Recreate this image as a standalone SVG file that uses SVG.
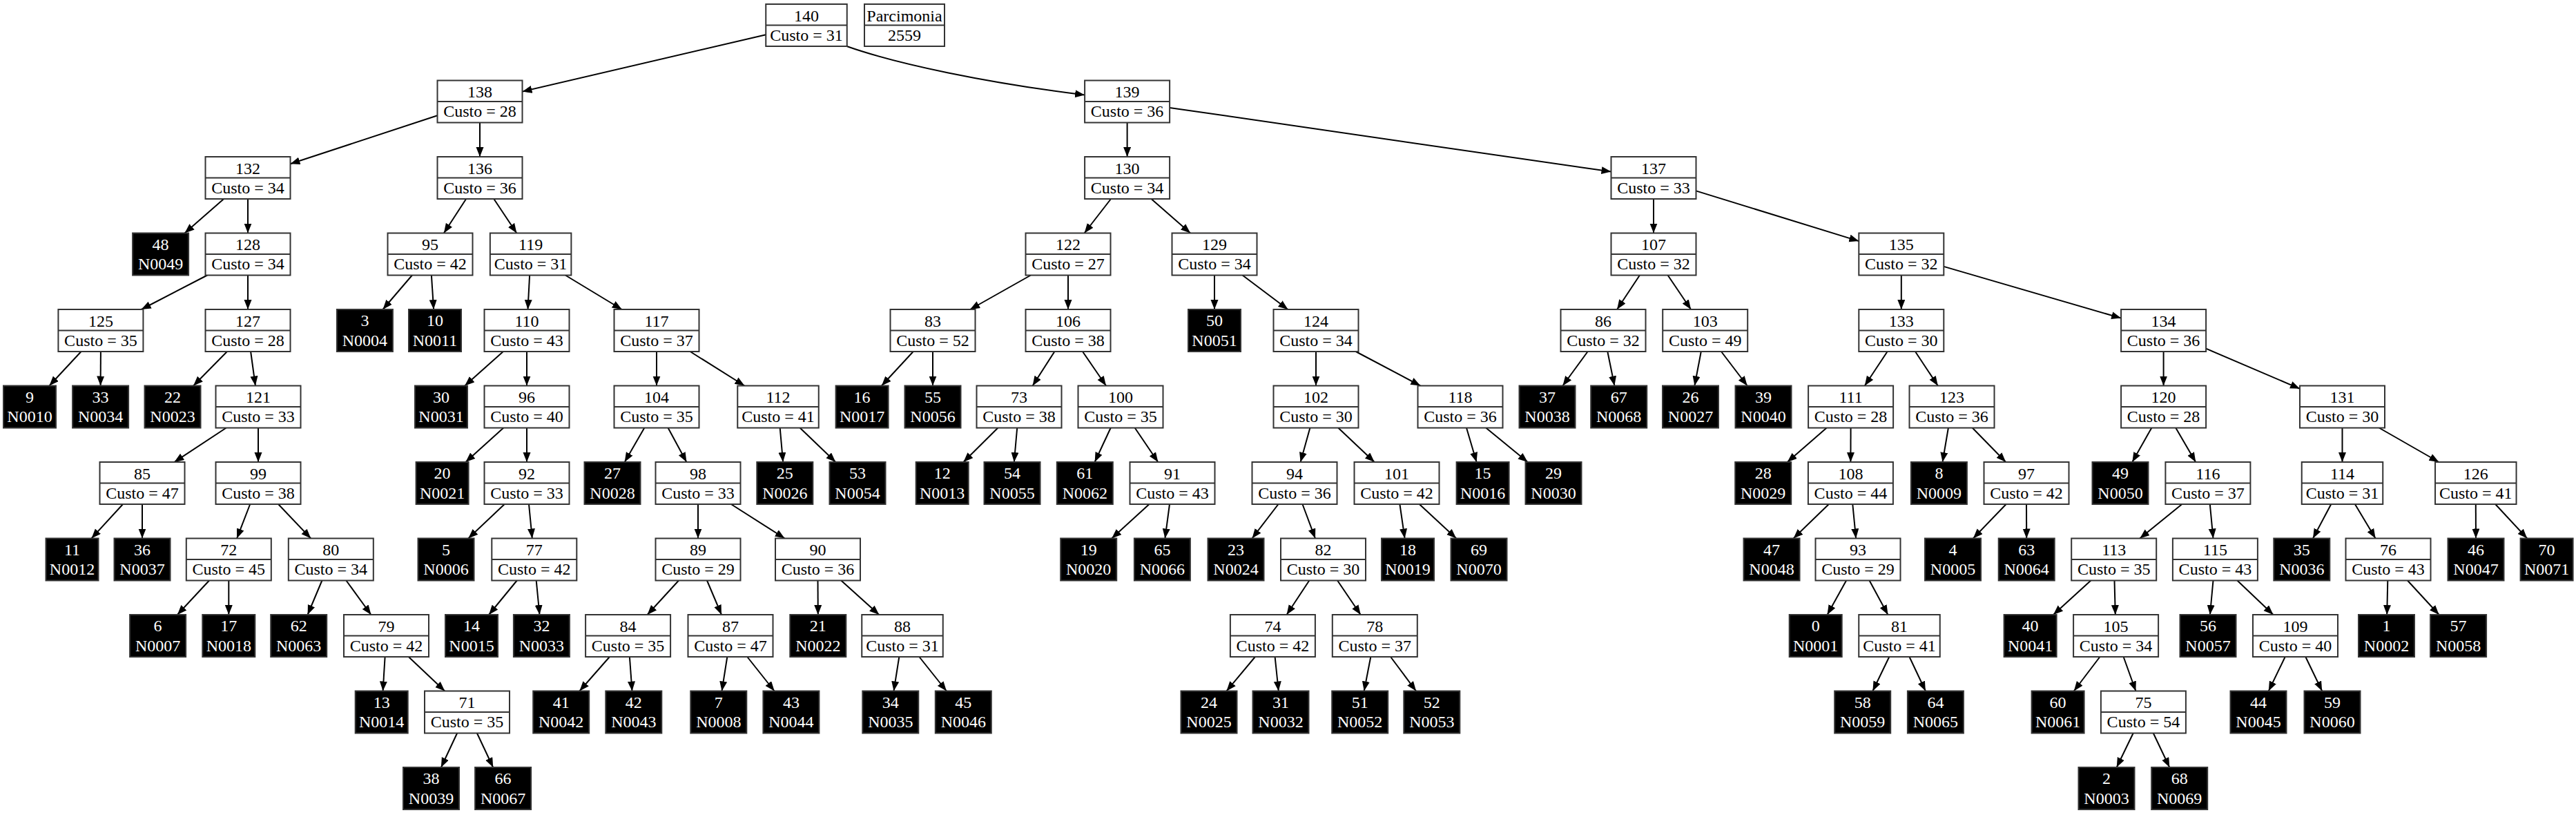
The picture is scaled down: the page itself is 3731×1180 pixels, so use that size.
<svg xmlns="http://www.w3.org/2000/svg" xmlns:xlink="http://www.w3.org/1999/xlink" width="3731" height="1180" viewBox="0 0 3731 1180">
<style>
text{font-family:"Liberation Serif","Times New Roman",serif;font-size:24px;text-anchor:middle;fill:#000}
.b{fill:#fff;stroke:#333;stroke-width:2}
.k{fill:#000;stroke:#333;stroke-width:2}
.d{fill:none;stroke:#333;stroke-width:2}
.lf text{fill:#fff}
#edges path{fill:none;stroke:#000;stroke-width:2;marker-end:url(#a)}
</style>
<defs>
<marker id="a" markerUnits="userSpaceOnUse" markerWidth="15" markerHeight="12" refX="14" refY="5.5" orient="auto"><path d="M0,0 L14,5.5 L0,11 z" fill="#000"/></marker>
<g id="B"><rect class="b" x="-61.5" width="123" height="61"/><path class="d" d="M-61.5 30.5H61.5"/></g>
<g id="BN"><rect class="b" x="-58.75" width="117.5" height="61"/><path class="d" d="M-58.75 30.5H58.75"/></g>
<rect id="L" class="k" x="-40.5" width="81" height="61"/>
<rect id="LN" class="k" x="-38" width="76" height="61"/>
</defs>
<rect width="3731" height="1180" fill="#fff"/>
<g id="edges">
<path d="M1109.3 50.2L756.5 132.6"/>
<path d="M1226.5 67C1300 93 1430 120 1571 137.5"/>
<path d="M633.5 167.2L420.5 237.3"/>
<path d="M695 177.5L695 227"/>
<path d="M1632.6 177.5L1632.6 227"/>
<path d="M1694.1 155.9L2333.5 248.6"/>
<path d="M324.1 288L267.5 337.5"/>
<path d="M359 288L359 337.5"/>
<path d="M675.1 288L642.9 337.5"/>
<path d="M715.3 288L748.3 337.5"/>
<path d="M1609 288L1570.6 337.5"/>
<path d="M1667.5 288L1724.1 337.5"/>
<path d="M2395 288L2395 337.5"/>
<path d="M2456.5 276.4L2692.3 349.1"/>
<path d="M300.2 398.5L204.7 448"/>
<path d="M359 398.5L359 448"/>
<path d="M596.9 398.5L554.5 448"/>
<path d="M624.9 398.5L628.1 448"/>
<path d="M767.1 398.5L764.5 448"/>
<path d="M818.9 398.5L900.7 448"/>
<path d="M1492.9 398.5L1405.1 448"/>
<path d="M1547 398.5L1547 448"/>
<path d="M1759 398.5L1759 448"/>
<path d="M1799.6 398.5L1865.4 448"/>
<path d="M2374.9 398.5L2342.1 448"/>
<path d="M2415.6 398.5L2449.1 448"/>
<path d="M2753.8 398.5L2753.8 448"/>
<path d="M2815.3 385.9L3072.1 460.6"/>
<path d="M117.5 509L71.4 558.5"/>
<path d="M145.9 509L145.6 558.5"/>
<path d="M328.9 509L280.1 558.5"/>
<path d="M363.1 509L369.9 558.5"/>
<path d="M728.8 509L673.2 558.5"/>
<path d="M763 509L763 558.5"/>
<path d="M951 509L951 558.5"/>
<path d="M999.6 509L1078.4 558.5"/>
<path d="M1322.7 509L1276.9 558.5"/>
<path d="M1351 509L1351 558.5"/>
<path d="M1527.4 509L1495.6 558.5"/>
<path d="M1568 509L1602 558.5"/>
<path d="M1906 509L1906 558.5"/>
<path d="M1963.7 509L2057.3 558.5"/>
<path d="M2299.6 509L2263.4 558.5"/>
<path d="M2328.3 509L2338.4 558.5"/>
<path d="M2463.8 509L2454.4 558.5"/>
<path d="M2493 509L2530.7 558.5"/>
<path d="M2733.6 509L2700.8 558.5"/>
<path d="M2774 509L2806.8 558.5"/>
<path d="M3133.6 509L3133.6 558.5"/>
<path d="M3195.1 504.7L3331 562.8"/>
<path d="M327.6 619.5L252.4 669"/>
<path d="M374 619.5L374 669"/>
<path d="M729.2 619.5L674.4 669"/>
<path d="M763 619.5L763 669"/>
<path d="M933.3 619.5L904.7 669"/>
<path d="M967.6 619.5L994.4 669"/>
<path d="M1129.7 619.5L1134.1 669"/>
<path d="M1158.7 619.5L1210.3 669"/>
<path d="M1445.3 619.5L1395.4 669"/>
<path d="M1473.2 619.5L1468.8 669"/>
<path d="M1608.7 619.5L1585.6 669"/>
<path d="M1643.7 619.5L1677.3 669"/>
<path d="M1897.4 619.5L1883.6 669"/>
<path d="M1938.3 619.5L1990.7 669"/>
<path d="M2124 619.5L2138.6 669"/>
<path d="M2152.3 619.5L2212.7 669"/>
<path d="M2645.6 619.5L2588.7 669"/>
<path d="M2680.6 619.5L2680.4 669"/>
<path d="M2821.9 619.5L2813.5 669"/>
<path d="M2856.8 619.5L2905.2 669"/>
<path d="M3116.3 619.5L3088.3 669"/>
<path d="M3151.3 619.5L3180.2 669"/>
<path d="M3392.5 619.5L3392.5 669"/>
<path d="M3445.9 619.5L3532.4 669"/>
<path d="M178 730L132.5 779.5"/>
<path d="M206 730L206 779.5"/>
<path d="M362.2 730L343.1 779.5"/>
<path d="M403.1 730L450.2 779.5"/>
<path d="M730.7 730L678.3 779.5"/>
<path d="M766 730L770.8 779.5"/>
<path d="M1011 730L1011 779.5"/>
<path d="M1058.9 730L1136.6 779.5"/>
<path d="M1664.5 730L1610.2 779.5"/>
<path d="M1694 730L1687.4 779.5"/>
<path d="M1851.5 730L1813.5 779.5"/>
<path d="M1886.5 730L1905 779.5"/>
<path d="M2027.4 730L2034.6 779.5"/>
<path d="M2055.8 730L2109.2 779.5"/>
<path d="M2648.8 730L2597.6 779.5"/>
<path d="M2683.3 730L2688.1 779.5"/>
<path d="M2905.6 730L2857.9 779.5"/>
<path d="M2935 730L2935.2 779.5"/>
<path d="M3160.3 730L3099.3 779.5"/>
<path d="M3200.8 730L3205.5 779.5"/>
<path d="M3376.3 730L3350 779.5"/>
<path d="M3410.9 730L3440.6 779.5"/>
<path d="M3585.8 730L3586 779.5"/>
<path d="M3614.2 730L3660.2 779.5"/>
<path d="M303 840.5L256.9 890"/>
<path d="M331.3 840.5L331.3 890"/>
<path d="M466.4 840.5L445.6 890"/>
<path d="M501.4 840.5L537.4 890"/>
<path d="M748.7 840.5L708.1 890"/>
<path d="M776.7 840.5L781.5 890"/>
<path d="M983 840.5L937.6 890"/>
<path d="M1024 840.5L1045 890"/>
<path d="M1184.5 840.5L1184.8 890"/>
<path d="M1218.3 840.5L1273.2 890"/>
<path d="M1896.3 840.5L1863.6 890"/>
<path d="M1937.1 840.5L1970.7 890"/>
<path d="M2674.1 840.5L2646.6 890"/>
<path d="M2707.6 840.5L2734.4 890"/>
<path d="M3028.3 840.5L2974 890"/>
<path d="M3062.5 840.5L3063.8 890"/>
<path d="M3205.5 840.5L3200.9 890"/>
<path d="M3240.4 840.5L3292.5 890"/>
<path d="M3458.3 840.5L3457.2 890"/>
<path d="M3487 840.5L3532.6 890"/>
<path d="M557.6 951L554.6 1000.5"/>
<path d="M591.8 951L644.2 1000.5"/>
<path d="M882.9 951L839.4 1000.5"/>
<path d="M911.9 951L915.5 1000.5"/>
<path d="M1053.3 951L1045.5 1000.5"/>
<path d="M1082.3 951L1121.6 1000.5"/>
<path d="M1302.3 951L1294.5 1000.5"/>
<path d="M1331.4 951L1370.9 1000.5"/>
<path d="M1817.9 951L1776.5 1000.5"/>
<path d="M1846.6 951L1851.8 1000.5"/>
<path d="M1985.3 951L1975.7 1000.5"/>
<path d="M2014.1 951L2051 1000.5"/>
<path d="M2736.3 951L2712.4 1000.5"/>
<path d="M2765.5 951L2788.9 1000.5"/>
<path d="M3041.4 951L3003.8 1000.5"/>
<path d="M3075.6 951L3093.4 1000.5"/>
<path d="M3309.7 951L3285.8 1000.5"/>
<path d="M3339.3 951L3363.2 1000.5"/>
<path d="M662.1 1061.5L638.9 1111"/>
<path d="M690.9 1061.5L714.2 1111"/>
<path d="M3089.7 1061.5L3065.7 1111"/>
<path d="M3118.8 1061.5L3142.3 1111"/>
</g>
<g id="parcimonia" transform="translate(1310 6)"><rect class="b" x="-58" width="116" height="61"/><path class="d" d="M-58 30.5H58"/><text y="24.5">Parcimonia</text><text y="52.5">2559</text></g>
<g id="n140" transform="translate(1168 6)"><use href="#BN"/><text y="24.5">140</text><text y="52.5">Custo = 31</text></g>
<g id="n138" transform="translate(695 116.5)"><use href="#B"/><text y="24.5">138</text><text y="52.5">Custo = 28</text></g>
<g id="n139" transform="translate(1632.6 116.5)"><use href="#B"/><text y="24.5">139</text><text y="52.5">Custo = 36</text></g>
<g id="n132" transform="translate(359 227)"><use href="#B"/><text y="24.5">132</text><text y="52.5">Custo = 34</text></g>
<g id="n136" transform="translate(695 227)"><use href="#B"/><text y="24.5">136</text><text y="52.5">Custo = 36</text></g>
<g id="n130" transform="translate(1632.6 227)"><use href="#B"/><text y="24.5">130</text><text y="52.5">Custo = 34</text></g>
<g id="n137" transform="translate(2395 227)"><use href="#B"/><text y="24.5">137</text><text y="52.5">Custo = 33</text></g>
<g id="n128" transform="translate(359 337.5)"><use href="#B"/><text y="24.5">128</text><text y="52.5">Custo = 34</text></g>
<g id="n95" transform="translate(623 337.5)"><use href="#B"/><text y="24.5">95</text><text y="52.5">Custo = 42</text></g>
<g id="n119" transform="translate(768.6 337.5)"><use href="#BN"/><text y="24.5">119</text><text y="52.5">Custo = 31</text></g>
<g id="n122" transform="translate(1547 337.5)"><use href="#B"/><text y="24.5">122</text><text y="52.5">Custo = 27</text></g>
<g id="n129" transform="translate(1759 337.5)"><use href="#B"/><text y="24.5">129</text><text y="52.5">Custo = 34</text></g>
<g id="n107" transform="translate(2395 337.5)"><use href="#B"/><text y="24.5">107</text><text y="52.5">Custo = 32</text></g>
<g id="n135" transform="translate(2753.8 337.5)"><use href="#B"/><text y="24.5">135</text><text y="52.5">Custo = 32</text></g>
<g id="n125" transform="translate(145.9 448)"><use href="#B"/><text y="24.5">125</text><text y="52.5">Custo = 35</text></g>
<g id="n127" transform="translate(359 448)"><use href="#B"/><text y="24.5">127</text><text y="52.5">Custo = 28</text></g>
<g id="n110" transform="translate(763 448)"><use href="#B"/><text y="24.5">110</text><text y="52.5">Custo = 43</text></g>
<g id="n117" transform="translate(951 448)"><use href="#B"/><text y="24.5">117</text><text y="52.5">Custo = 37</text></g>
<g id="n83" transform="translate(1351 448)"><use href="#B"/><text y="24.5">83</text><text y="52.5">Custo = 52</text></g>
<g id="n106" transform="translate(1547 448)"><use href="#B"/><text y="24.5">106</text><text y="52.5">Custo = 38</text></g>
<g id="n124" transform="translate(1906 448)"><use href="#B"/><text y="24.5">124</text><text y="52.5">Custo = 34</text></g>
<g id="n86" transform="translate(2322 448)"><use href="#B"/><text y="24.5">86</text><text y="52.5">Custo = 32</text></g>
<g id="n103" transform="translate(2469.7 448)"><use href="#B"/><text y="24.5">103</text><text y="52.5">Custo = 49</text></g>
<g id="n133" transform="translate(2753.8 448)"><use href="#B"/><text y="24.5">133</text><text y="52.5">Custo = 30</text></g>
<g id="n134" transform="translate(3133.6 448)"><use href="#B"/><text y="24.5">134</text><text y="52.5">Custo = 36</text></g>
<g id="n121" transform="translate(374 558.5)"><use href="#B"/><text y="24.5">121</text><text y="52.5">Custo = 33</text></g>
<g id="n96" transform="translate(763 558.5)"><use href="#B"/><text y="24.5">96</text><text y="52.5">Custo = 40</text></g>
<g id="n104" transform="translate(951 558.5)"><use href="#B"/><text y="24.5">104</text><text y="52.5">Custo = 35</text></g>
<g id="n112" transform="translate(1127 558.5)"><use href="#BN"/><text y="24.5">112</text><text y="52.5">Custo = 41</text></g>
<g id="n73" transform="translate(1476 558.5)"><use href="#B"/><text y="24.5">73</text><text y="52.5">Custo = 38</text></g>
<g id="n100" transform="translate(1623 558.5)"><use href="#B"/><text y="24.5">100</text><text y="52.5">Custo = 35</text></g>
<g id="n102" transform="translate(1906 558.5)"><use href="#B"/><text y="24.5">102</text><text y="52.5">Custo = 30</text></g>
<g id="n118" transform="translate(2115 558.5)"><use href="#B"/><text y="24.5">118</text><text y="52.5">Custo = 36</text></g>
<g id="n111" transform="translate(2680.6 558.5)"><use href="#B"/><text y="24.5">111</text><text y="52.5">Custo = 28</text></g>
<g id="n123" transform="translate(2827 558.5)"><use href="#B"/><text y="24.5">123</text><text y="52.5">Custo = 36</text></g>
<g id="n120" transform="translate(3133.6 558.5)"><use href="#B"/><text y="24.5">120</text><text y="52.5">Custo = 28</text></g>
<g id="n131" transform="translate(3392.5 558.5)"><use href="#B"/><text y="24.5">131</text><text y="52.5">Custo = 30</text></g>
<g id="n85" transform="translate(206 669)"><use href="#B"/><text y="24.5">85</text><text y="52.5">Custo = 47</text></g>
<g id="n99" transform="translate(374 669)"><use href="#B"/><text y="24.5">99</text><text y="52.5">Custo = 38</text></g>
<g id="n92" transform="translate(763 669)"><use href="#B"/><text y="24.5">92</text><text y="52.5">Custo = 33</text></g>
<g id="n98" transform="translate(1011 669)"><use href="#B"/><text y="24.5">98</text><text y="52.5">Custo = 33</text></g>
<g id="n91" transform="translate(1698 669)"><use href="#B"/><text y="24.5">91</text><text y="52.5">Custo = 43</text></g>
<g id="n94" transform="translate(1875 669)"><use href="#B"/><text y="24.5">94</text><text y="52.5">Custo = 36</text></g>
<g id="n101" transform="translate(2023 669)"><use href="#B"/><text y="24.5">101</text><text y="52.5">Custo = 42</text></g>
<g id="n108" transform="translate(2680.4 669)"><use href="#B"/><text y="24.5">108</text><text y="52.5">Custo = 44</text></g>
<g id="n97" transform="translate(2935 669)"><use href="#B"/><text y="24.5">97</text><text y="52.5">Custo = 42</text></g>
<g id="n116" transform="translate(3197.9 669)"><use href="#B"/><text y="24.5">116</text><text y="52.5">Custo = 37</text></g>
<g id="n114" transform="translate(3392.5 669)"><use href="#BN"/><text y="24.5">114</text><text y="52.5">Custo = 31</text></g>
<g id="n126" transform="translate(3585.8 669)"><use href="#BN"/><text y="24.5">126</text><text y="52.5">Custo = 41</text></g>
<g id="n72" transform="translate(331.3 779.5)"><use href="#B"/><text y="24.5">72</text><text y="52.5">Custo = 45</text></g>
<g id="n80" transform="translate(479.3 779.5)"><use href="#B"/><text y="24.5">80</text><text y="52.5">Custo = 34</text></g>
<g id="n77" transform="translate(773.8 779.5)"><use href="#B"/><text y="24.5">77</text><text y="52.5">Custo = 42</text></g>
<g id="n89" transform="translate(1011 779.5)"><use href="#B"/><text y="24.5">89</text><text y="52.5">Custo = 29</text></g>
<g id="n90" transform="translate(1184.5 779.5)"><use href="#B"/><text y="24.5">90</text><text y="52.5">Custo = 36</text></g>
<g id="n82" transform="translate(1916.5 779.5)"><use href="#B"/><text y="24.5">82</text><text y="52.5">Custo = 30</text></g>
<g id="n93" transform="translate(2691 779.5)"><use href="#B"/><text y="24.5">93</text><text y="52.5">Custo = 29</text></g>
<g id="n113" transform="translate(3061.7 779.5)"><use href="#B"/><text y="24.5">113</text><text y="52.5">Custo = 35</text></g>
<g id="n115" transform="translate(3208.4 779.5)"><use href="#B"/><text y="24.5">115</text><text y="52.5">Custo = 43</text></g>
<g id="n76" transform="translate(3459 779.5)"><use href="#B"/><text y="24.5">76</text><text y="52.5">Custo = 43</text></g>
<g id="n79" transform="translate(559.5 890)"><use href="#B"/><text y="24.5">79</text><text y="52.5">Custo = 42</text></g>
<g id="n84" transform="translate(909.6 890)"><use href="#B"/><text y="24.5">84</text><text y="52.5">Custo = 35</text></g>
<g id="n87" transform="translate(1058 890)"><use href="#B"/><text y="24.5">87</text><text y="52.5">Custo = 47</text></g>
<g id="n88" transform="translate(1307 890)"><use href="#BN"/><text y="24.5">88</text><text y="52.5">Custo = 31</text></g>
<g id="n74" transform="translate(1843.4 890)"><use href="#B"/><text y="24.5">74</text><text y="52.5">Custo = 42</text></g>
<g id="n78" transform="translate(1991.3 890)"><use href="#B"/><text y="24.5">78</text><text y="52.5">Custo = 37</text></g>
<g id="n81" transform="translate(2751 890)"><use href="#BN"/><text y="24.5">81</text><text y="52.5">Custo = 41</text></g>
<g id="n105" transform="translate(3064.6 890)"><use href="#B"/><text y="24.5">105</text><text y="52.5">Custo = 34</text></g>
<g id="n109" transform="translate(3324.5 890)"><use href="#B"/><text y="24.5">109</text><text y="52.5">Custo = 40</text></g>
<g id="n71" transform="translate(676.5 1000.5)"><use href="#B"/><text y="24.5">71</text><text y="52.5">Custo = 35</text></g>
<g id="n75" transform="translate(3104.4 1000.5)"><use href="#B"/><text y="24.5">75</text><text y="52.5">Custo = 54</text></g>
<g class="lf">
<g id="l48" transform="translate(232.6 337.5)"><use href="#L"/><text y="24">48</text><text y="52.5">N0049</text></g>
<g id="l3" transform="translate(528.4 448)"><use href="#L"/><text y="24">3</text><text y="52.5">N0004</text></g>
<g id="l10" transform="translate(630 448)"><use href="#LN"/><text y="24">10</text><text y="52.5">N0011</text></g>
<g id="l50" transform="translate(1759 448)"><use href="#LN"/><text y="24">50</text><text y="52.5">N0051</text></g>
<g id="l9" transform="translate(43 558.5)"><use href="#LN"/><text y="24">9</text><text y="52.5">N0010</text></g>
<g id="l33" transform="translate(145.6 558.5)"><use href="#L"/><text y="24">33</text><text y="52.5">N0034</text></g>
<g id="l22" transform="translate(250 558.5)"><use href="#L"/><text y="24">22</text><text y="52.5">N0023</text></g>
<g id="l30" transform="translate(639 558.5)"><use href="#LN"/><text y="24">30</text><text y="52.5">N0031</text></g>
<g id="l16" transform="translate(1248.6 558.5)"><use href="#LN"/><text y="24">16</text><text y="52.5">N0017</text></g>
<g id="l55" transform="translate(1351 558.5)"><use href="#L"/><text y="24">55</text><text y="52.5">N0056</text></g>
<g id="l37" transform="translate(2241 558.5)"><use href="#L"/><text y="24">37</text><text y="52.5">N0038</text></g>
<g id="l67" transform="translate(2344.7 558.5)"><use href="#L"/><text y="24">67</text><text y="52.5">N0068</text></g>
<g id="l26" transform="translate(2448.5 558.5)"><use href="#L"/><text y="24">26</text><text y="52.5">N0027</text></g>
<g id="l39" transform="translate(2554 558.5)"><use href="#L"/><text y="24">39</text><text y="52.5">N0040</text></g>
<g id="l20" transform="translate(640.6 669)"><use href="#LN"/><text y="24">20</text><text y="52.5">N0021</text></g>
<g id="l27" transform="translate(887 669)"><use href="#L"/><text y="24">27</text><text y="52.5">N0028</text></g>
<g id="l25" transform="translate(1136.8 669)"><use href="#L"/><text y="24">25</text><text y="52.5">N0026</text></g>
<g id="l53" transform="translate(1242 669)"><use href="#L"/><text y="24">53</text><text y="52.5">N0054</text></g>
<g id="l12" transform="translate(1364.7 669)"><use href="#LN"/><text y="24">12</text><text y="52.5">N0013</text></g>
<g id="l54" transform="translate(1466 669)"><use href="#L"/><text y="24">54</text><text y="52.5">N0055</text></g>
<g id="l61" transform="translate(1571.3 669)"><use href="#L"/><text y="24">61</text><text y="52.5">N0062</text></g>
<g id="l15" transform="translate(2147.6 669)"><use href="#LN"/><text y="24">15</text><text y="52.5">N0016</text></g>
<g id="l29" transform="translate(2250 669)"><use href="#L"/><text y="24">29</text><text y="52.5">N0030</text></g>
<g id="l28" transform="translate(2553.7 669)"><use href="#L"/><text y="24">28</text><text y="52.5">N0029</text></g>
<g id="l8" transform="translate(2808.4 669)"><use href="#L"/><text y="24">8</text><text y="52.5">N0009</text></g>
<g id="l49" transform="translate(3071 669)"><use href="#L"/><text y="24">49</text><text y="52.5">N0050</text></g>
<g id="l11" transform="translate(104.5 779.5)"><use href="#LN"/><text y="24">11</text><text y="52.5">N0012</text></g>
<g id="l36" transform="translate(206 779.5)"><use href="#L"/><text y="24">36</text><text y="52.5">N0037</text></g>
<g id="l5" transform="translate(646 779.5)"><use href="#L"/><text y="24">5</text><text y="52.5">N0006</text></g>
<g id="l19" transform="translate(1576.7 779.5)"><use href="#L"/><text y="24">19</text><text y="52.5">N0020</text></g>
<g id="l65" transform="translate(1683.4 779.5)"><use href="#L"/><text y="24">65</text><text y="52.5">N0066</text></g>
<g id="l23" transform="translate(1790 779.5)"><use href="#L"/><text y="24">23</text><text y="52.5">N0024</text></g>
<g id="l18" transform="translate(2039 779.5)"><use href="#LN"/><text y="24">18</text><text y="52.5">N0019</text></g>
<g id="l69" transform="translate(2142 779.5)"><use href="#L"/><text y="24">69</text><text y="52.5">N0070</text></g>
<g id="l47" transform="translate(2566 779.5)"><use href="#L"/><text y="24">47</text><text y="52.5">N0048</text></g>
<g id="l4" transform="translate(2828.5 779.5)"><use href="#L"/><text y="24">4</text><text y="52.5">N0005</text></g>
<g id="l63" transform="translate(2935.2 779.5)"><use href="#L"/><text y="24">63</text><text y="52.5">N0064</text></g>
<g id="l35" transform="translate(3333.8 779.5)"><use href="#L"/><text y="24">35</text><text y="52.5">N0036</text></g>
<g id="l46" transform="translate(3586 779.5)"><use href="#L"/><text y="24">46</text><text y="52.5">N0047</text></g>
<g id="l70" transform="translate(3688.6 779.5)"><use href="#LN"/><text y="24">70</text><text y="52.5">N0071</text></g>
<g id="l6" transform="translate(228.6 890)"><use href="#L"/><text y="24">6</text><text y="52.5">N0007</text></g>
<g id="l17" transform="translate(331.3 890)"><use href="#LN"/><text y="24">17</text><text y="52.5">N0018</text></g>
<g id="l62" transform="translate(432.7 890)"><use href="#L"/><text y="24">62</text><text y="52.5">N0063</text></g>
<g id="l14" transform="translate(683 890)"><use href="#LN"/><text y="24">14</text><text y="52.5">N0015</text></g>
<g id="l32" transform="translate(784.4 890)"><use href="#L"/><text y="24">32</text><text y="52.5">N0033</text></g>
<g id="l21" transform="translate(1184.8 890)"><use href="#L"/><text y="24">21</text><text y="52.5">N0022</text></g>
<g id="l0" transform="translate(2629.7 890)"><use href="#LN"/><text y="24">0</text><text y="52.5">N0001</text></g>
<g id="l40" transform="translate(2940.6 890)"><use href="#LN"/><text y="24">40</text><text y="52.5">N0041</text></g>
<g id="l56" transform="translate(3198 890)"><use href="#L"/><text y="24">56</text><text y="52.5">N0057</text></g>
<g id="l1" transform="translate(3456.5 890)"><use href="#L"/><text y="24">1</text><text y="52.5">N0002</text></g>
<g id="l57" transform="translate(3560.6 890)"><use href="#L"/><text y="24">57</text><text y="52.5">N0058</text></g>
<g id="l13" transform="translate(552.7 1000.5)"><use href="#LN"/><text y="24">13</text><text y="52.5">N0014</text></g>
<g id="l41" transform="translate(812.7 1000.5)"><use href="#L"/><text y="24">41</text><text y="52.5">N0042</text></g>
<g id="l42" transform="translate(917.8 1000.5)"><use href="#L"/><text y="24">42</text><text y="52.5">N0043</text></g>
<g id="l7" transform="translate(1040.8 1000.5)"><use href="#L"/><text y="24">7</text><text y="52.5">N0008</text></g>
<g id="l43" transform="translate(1145.9 1000.5)"><use href="#L"/><text y="24">43</text><text y="52.5">N0044</text></g>
<g id="l34" transform="translate(1289.8 1000.5)"><use href="#L"/><text y="24">34</text><text y="52.5">N0035</text></g>
<g id="l45" transform="translate(1395.3 1000.5)"><use href="#L"/><text y="24">45</text><text y="52.5">N0046</text></g>
<g id="l24" transform="translate(1751 1000.5)"><use href="#L"/><text y="24">24</text><text y="52.5">N0025</text></g>
<g id="l31" transform="translate(1855 1000.5)"><use href="#L"/><text y="24">31</text><text y="52.5">N0032</text></g>
<g id="l51" transform="translate(1969.7 1000.5)"><use href="#L"/><text y="24">51</text><text y="52.5">N0052</text></g>
<g id="l52" transform="translate(2073.8 1000.5)"><use href="#L"/><text y="24">52</text><text y="52.5">N0053</text></g>
<g id="l58" transform="translate(2697.7 1000.5)"><use href="#L"/><text y="24">58</text><text y="52.5">N0059</text></g>
<g id="l64" transform="translate(2803.4 1000.5)"><use href="#L"/><text y="24">64</text><text y="52.5">N0065</text></g>
<g id="l60" transform="translate(2980.6 1000.5)"><use href="#LN"/><text y="24">60</text><text y="52.5">N0061</text></g>
<g id="l44" transform="translate(3271 1000.5)"><use href="#L"/><text y="24">44</text><text y="52.5">N0045</text></g>
<g id="l59" transform="translate(3378 1000.5)"><use href="#L"/><text y="24">59</text><text y="52.5">N0060</text></g>
<g id="l38" transform="translate(624.5 1111)"><use href="#L"/><text y="24">38</text><text y="52.5">N0039</text></g>
<g id="l66" transform="translate(728.6 1111)"><use href="#L"/><text y="24">66</text><text y="52.5">N0067</text></g>
<g id="l2" transform="translate(3051 1111)"><use href="#L"/><text y="24">2</text><text y="52.5">N0003</text></g>
<g id="l68" transform="translate(3156.7 1111)"><use href="#L"/><text y="24">68</text><text y="52.5">N0069</text></g>
</g>
</svg>
